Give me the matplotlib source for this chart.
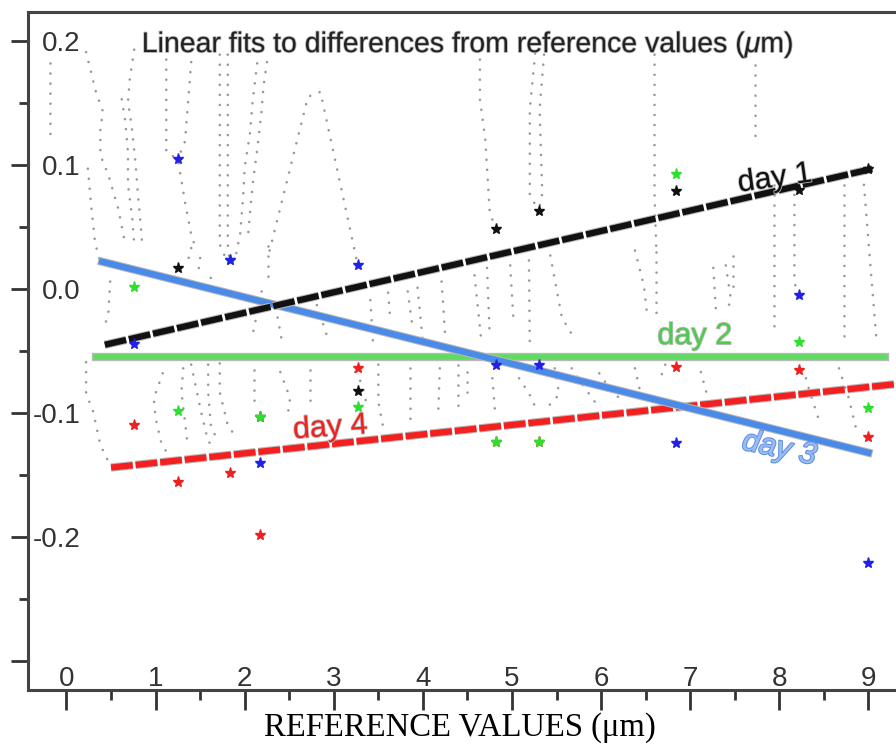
import numpy as np
import matplotlib
matplotlib.use('Agg')
from matplotlib import pyplot as plt
from matplotlib import patheffects as pe
from matplotlib.ticker import MultipleLocator

plt.rcParams['font.family'] = ['Liberation Sans', 'DejaVu Sans']
plt.rcParams['mathtext.fontset'] = 'custom'
plt.rcParams['mathtext.it'] = 'Liberation Sans:italic'
plt.rcParams['mathtext.rm'] = 'Liberation Sans'

# reference values (um) and differences per day
ref_x = [0.76, 1.25, 1.83, 2.17, 3.27, 4.82, 5.30, 6.84, 8.22, 9.00]
day1 = [np.nan, 0.017, np.nan, -0.103, -0.082, 0.048, 0.063, 0.079, 0.080, 0.097]
day2 = [0.002, -0.098, 0.023, -0.103, -0.095, -0.123, -0.123, 0.093, -0.043, -0.096]
day3 = [-0.044, 0.105, 0.023, -0.140, 0.019, -0.061, -0.061, -0.124, -0.005, -0.221]
day4 = [-0.110, -0.156, -0.148, -0.198, -0.064, -0.123, -0.123, -0.063, -0.065, -0.119]

# linear fits: start/end x and y
fit_x = {'day 1': [0.43, 9.05], 'day 2': [0.33, 9.19], 'day 3': [0.40, 9.00], 'day 4': [0.50, 9.40]}
fit_y = {'day 1': [-0.045, 0.097], 'day 2': [-0.055, -0.055], 'day 3': [0.022, -0.132], 'day 4': [-0.144, -0.076]}

# grey dotted traces
traces = [
    ([-0.19, -0.19], [0.182, 0.118]),
    ([0.22, 0.33, 0.41, 0.38, 0.38, 0.47, 0.58, 0.66], [0.191, 0.159, 0.143, 0.129, 0.108, 0.092, 0.065, 0.036]),
    ([0.24, 0.28, 0.32, 0.38], [0.097, 0.065, 0.038, 0.02]),
    ([0.62, 0.66, 0.69, 0.69, 0.74, 0.76], [0.153, 0.135, 0.11, 0.084, 0.056, 0.036]),
    ([0.76, 0.71, 0.69, 0.73, 0.77, 0.80, 0.84, 0.85], [0.193, 0.169, 0.151, 0.132, 0.105, 0.078, 0.046, 0.035]),
    ([1.12, 1.12, 1.25, 1.33, 1.40, 1.44], [0.185, 0.11, 0.105, 0.070, 0.044, 0.035]),
    ([1.40, 1.33, 1.25], [0.183, 0.119, 0.105]),
    ([1.72, 1.72, 1.78, 1.83], [0.189, 0.036, 0.026, 0.023]),
    ([1.81, 1.81, 1.83], [0.189, 0.036, 0.023]),
    ([2.14, 2.09, 2.06, 2.0, 1.98, 1.95, 1.89], [0.182, 0.152, 0.126, 0.098, 0.072, 0.045, 0.023]),
    ([2.25, 2.21, 2.19, 2.14, 2.09, 2.04], [0.183, 0.163, 0.144, 0.112, 0.085, 0.045]),
    ([2.28, 2.71, 2.85, 3.27], [0.031, 0.155, 0.159, 0.019]),
    ([4.64, 4.64, 4.70, 4.75, 4.82], [0.185, 0.153, 0.121, 0.062, 0.048]),
    ([5.26, 5.20, 5.20, 5.30], [0.19, 0.145, 0.076, 0.063]),
    ([5.36, 5.31, 5.34, 5.30], [0.189, 0.145, 0.077, 0.063]),
    ([6.60, 6.60, 6.62], [0.189, 0.076, 0.031]),
    ([7.73, 7.73], [0.181, 0.117]),
    ([7.94, 7.94], [0.084, -0.031]),
    ([8.17, 8.17, 8.22], [0.084, 0.005, -0.005]),
    ([8.73, 8.73], [0.084, -0.04]),
    ([8.95, 9.01, 9.09], [0.084, 0.03, -0.04]),
    ([0.49, 0.47, 0.44], [0.006, -0.019, -0.027]),
    ([0.22, 0.22, 0.30, 0.38, 0.49], [-0.059, -0.084, -0.099, -0.126, -0.142]),
    ([1.08, 0.98, 1.00, 1.06, 1.14], [-0.068, -0.088, -0.104, -0.123, -0.134]),
    ([1.31, 1.29, 1.33, 1.36], [-0.064, -0.083, -0.107, -0.126]),
    ([1.40, 1.51, 1.59, 1.67], [-0.061, -0.099, -0.123, -0.128]),
    ([1.59, 1.59, 1.62, 1.68], [-0.061, -0.083, -0.110, -0.120]),
    ([1.72, 1.72, 1.81, 1.90], [-0.060, -0.083, -0.110, -0.119]),
    ([1.40, 1.36], [0.033, 0.022]),
    ([1.50, 1.48], [0.025, 0.014]),
    ([1.62, 1.61], [0.009, -0.007]),
    ([2.26, 2.26], [0.035, 0.009]),
    ([2.19, 2.08], [-0.002, -0.040]),
    ([2.37, 2.42], [-0.023, -0.043]),
    ([2.81, 2.92], [-0.013, -0.037]),
    ([3.41, 3.44], [-0.009, -0.043]),
    ([3.61, 3.63], [-0.003, -0.021]),
    ([3.83, 3.88], [-0.002, -0.029]),
    ([3.94, 4.00], [0.001, -0.043]),
    ([4.21, 4.25], [0.006, -0.037]),
    ([4.58, 4.66], [0.011, -0.045]),
    ([4.72, 4.75], [0.017, -0.037]),
    ([4.98, 5.02], [0.019, -0.029]),
    ([5.19, 5.20], [0.023, -0.045]),
    ([5.43, 5.56, 5.70], [0.027, -0.023, -0.040]),
    ([6.38, 6.48, 6.52], [0.031, 0.003, -0.023]),
    ([6.62, 6.62], [0.030, -0.023]),
    ([7.26, 7.29], [0.017, -0.019]),
    ([7.40, 7.46, 7.38], [0.019, -0.010, -0.019]),
    ([7.48, 7.48], [0.027, 0.001]),
    ([2.10, 2.10], [-0.065, -0.090]),
    ([2.40, 2.51, 2.49], [-0.067, -0.088, -0.098]),
    ([2.73, 2.73], [-0.065, -0.090]),
    ([3.24, 3.32, 3.37], [-0.067, -0.077, -0.094]),
    ([3.50, 3.50, 3.55], [-0.061, -0.091, -0.110]),
    ([3.86, 3.86], [-0.064, -0.107]),
    ([4.19, 4.17], [-0.064, -0.104]),
    ([4.39, 4.39], [-0.061, -0.099]),
    ([4.49, 4.49], [-0.067, -0.088]),
    ([4.78, 4.81], [-0.072, -0.099]),
    ([5.08, 5.19, 5.28], [-0.072, -0.084, -0.098]),
    ([5.48, 5.53, 5.39], [-0.064, -0.085, -0.096]),
    ([5.67, 5.79, 5.93], [-0.064, -0.077, -0.091]),
    ([5.98, 6.12, 6.26], [-0.068, -0.083, -0.091]),
    ([6.38, 6.43], [-0.064, -0.080]),
    ([6.72, 6.65], [-0.061, -0.075]),
    ([7.12, 7.18], [-0.067, -0.083]),
    ([8.30, 8.33, 8.45], [-0.072, -0.080, -0.107]),
    ([8.67, 8.78, 8.86], [-0.064, -0.088, -0.112]),
]

fig = plt.figure(figsize=(8.96, 7.44), dpi=100)
ax = fig.add_axes([28 / 896, 54 / 744, 868 / 896, 678 / 744])
ax.set_xlim(-0.432, 9.31)
ax.set_ylim(-0.3234, 0.2234)

for tx, ty in traces:
    ax.plot(tx, ty, color='#999999', lw=1.9, linestyle=(0, (0.01, 3.8)),
            dash_capstyle='round', zorder=1)

halo = [pe.Stroke(linewidth=6, foreground='#b8b8b8'), pe.Normal()]
ax.plot(fit_x['day 2'], fit_y['day 2'], color='#5fdc5f', lw=4, path_effects=halo, zorder=2)
ax.plot(fit_x['day 4'], fit_y['day 4'], color='#f42020', lw=4.5, linestyle=(0, (3.5, 0.45)),
        path_effects=halo, zorder=3)
ax.plot(fit_x['day 3'], fit_y['day 3'], color='#4a8ae8', lw=4.5, path_effects=halo, zorder=3)
ax.plot(fit_x['day 1'], fit_y['day 1'], color='#111111', lw=4.5, linestyle=(0, (3.5, 0.45)),
        path_effects=halo, zorder=4)

for vals, col in [(day1, '#111111'), (day4, '#ee2020'), (day2, '#2ee02e'), (day3, '#2020e8')]:
    ax.plot(ref_x, vals, ls='none', marker='*', ms=8, color=col, mec=col, zorder=5)

# day labels
txt_halo = [pe.Stroke(linewidth=1.2, foreground='#bbbbbb'), pe.Normal()]
ax.text(7.95, 0.089, 'day 1', fontsize=22, color='#111111', rotation=8,
        ha='center', va='center', zorder=6, path_effects=txt_halo)
ax.text(7.05, -0.038, 'day 2', fontsize=22, color='#4ccc4c',
        ha='center', va='center', zorder=6, path_effects=txt_halo)
ax.text(8.0, -0.129, 'day 3', fontsize=22, color='#9cbcf4', style='italic', rotation=-12,
        ha='center', va='center', zorder=6,
        path_effects=[pe.Stroke(linewidth=1.5, foreground='#5f8fe0'), pe.Normal()])
ax.text(2.96, -0.112, 'day 4', fontsize=22, color='#f42020', rotation=4,
        ha='center', va='center', zorder=6, path_effects=txt_halo)

ax.text(0.507, 0.951, r'Linear fits to differences from reference values ($\mu$m)',
        transform=ax.transAxes, fontsize=20.5, color='#222222', ha='center', va='center',
        path_effects=txt_halo)

# ticks and labels inside the frame
ax.set_xticks(range(10))
ax.xaxis.set_minor_locator(MultipleLocator(0.5))
ax.set_yticks([0.2, 0.1, 0.0, -0.1, -0.2, -0.3])
ax.set_yticklabels(['0.2', '0.1', '0.0', '-0.1', '-0.2', ''])
ax.yaxis.set_minor_locator(MultipleLocator(0.05))
ax.tick_params(axis='x', which='major', direction='out', length=14.4, width=2,
               pad=-32, labelsize=20, colors='#333333')
ax.tick_params(axis='x', which='minor', direction='out', length=7, width=2, colors='#333333')
ax.tick_params(axis='y', which='major', direction='out', length=12, width=2,
               pad=-50, labelsize=20, colors='#333333')
ax.tick_params(axis='y', which='minor', direction='out', length=6.5, width=2, colors='#333333')

for side in ['left', 'bottom', 'top']:
    ax.spines[side].set_linewidth(2.2)
    ax.spines[side].set_color('#444444')
ax.spines['right'].set_visible(False)

fig.text(460 / 896, 1 - 728 / 744, r'REFERENCE VALUES (μm)', fontsize=23.5,
         family='Liberation Serif', ha='center', va='center')

fig.savefig('out.png', dpi=100)
